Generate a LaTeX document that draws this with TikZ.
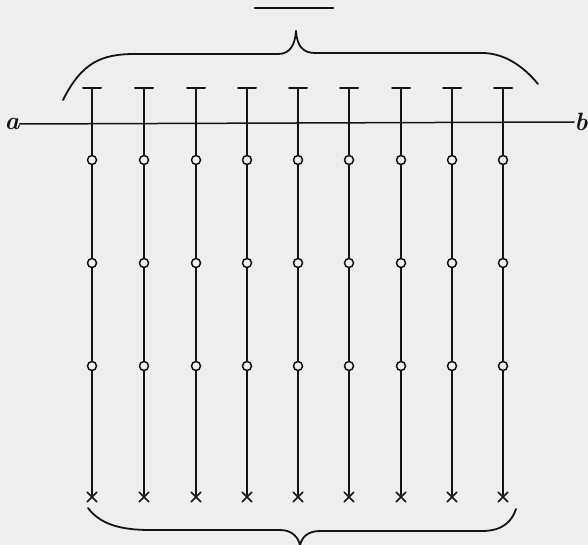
\documentclass[tikz,border=0pt]{standalone}
\usepackage{tikz}
\usetikzlibrary{shapes.misc}
\definecolor{paper}{RGB}{238,238,238}
\definecolor{ink}{RGB}{20,20,20}

\begin{document}
\begin{tikzpicture}[x=1pt,y=-1pt,line cap=round,
  rod/.style={ink,line width=1.7pt},
  bead/.style={circle,draw=ink,line width=1.5pt,fill=paper,inner sep=0pt,minimum size=9pt},
  cross/.style={cross out,draw=ink,line width=1.6pt,inner sep=0pt,minimum size=8pt},
  brace/.style={ink,line width=1.8pt},
  endlabel/.style={ink,font=\fontsize{25}{30}\selectfont\bfseries\itshape,inner sep=0pt}]
% paper and frame
\fill[paper] (0,0) rectangle (588,545);
\useasboundingbox (0,0) rectangle (588,545);
% bar above the upper brace
\draw[ink,line width=2.8pt] (255,8) -- (333,8);
% upper brace
\draw[brace] (63,100) .. controls (82,62) and (102,54) .. (135,54) -- (278,54)
  .. controls (290,54) and (295,45) .. (296,31);
\draw[brace] (296,31) .. controls (297,45) and (302,53) .. (315,53) -- (482,53)
  .. controls (505,53) and (524,67) .. (538,84);
% the line a--b
\node[endlabel] (a) at (12,124) {a};
\node[endlabel] (b) at (581,122) {b};
\draw[ink,line width=1.5pt] (a.east) -- (b.west);
% the nine rods with beads and crosses
\foreach \i/\x in {1/92,2/144,3/196,4/247,5/298,6/349,7/401,8/452,9/503}{
  \coordinate (top\i) at (\x,88);
  \draw[ink,line width=2pt] ([xshift=-9pt]top\i) -- ([xshift=9pt]top\i);
  \node[bead] (p\i) at (\x,160) {};
  \node[bead] (q\i) at (\x,263) {};
  \node[bead] (r\i) at (\x,366) {};
  \node[cross] (x\i) at (\x,497) {};
  \draw[rod] (top\i) -- (p\i) (p\i) -- (q\i) (q\i) -- (r\i) (r\i) -- ([yshift=2pt]x\i.center);
}
% lower brace
\draw[brace] (88,508) .. controls (100,524) and (120,530) .. (150,530) -- (280,530)
  .. controls (292,530) and (298,537) .. (300,545);
\draw[brace] (300,545) .. controls (302,537) and (308,531) .. (320,531) -- (482,531)
  .. controls (503,531) and (512,521) .. (516,509);
\end{tikzpicture}
\end{document}
